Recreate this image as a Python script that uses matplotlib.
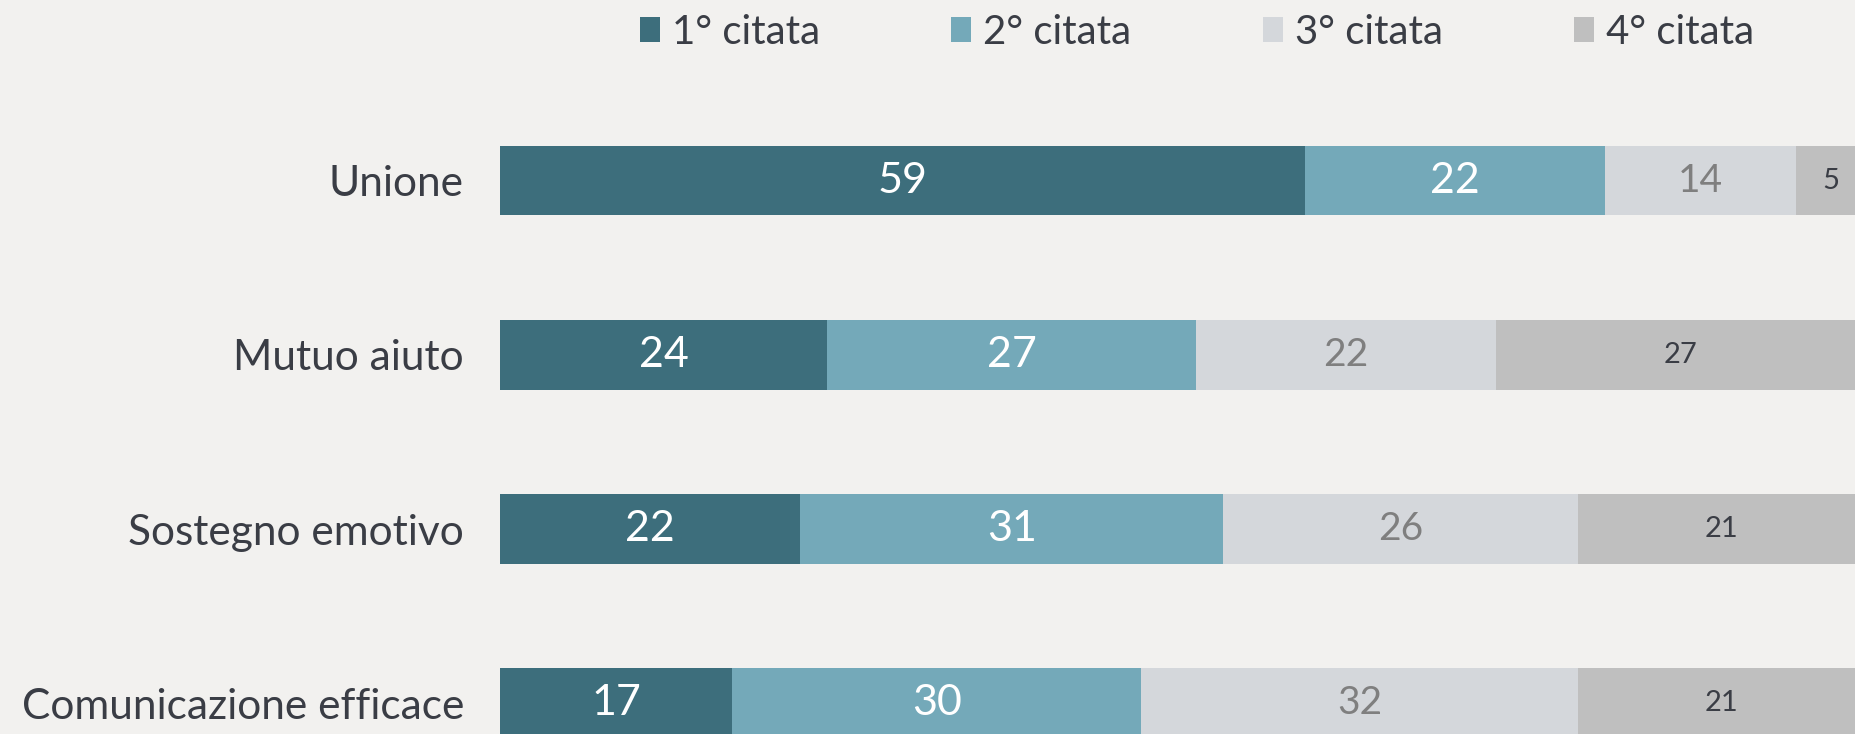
import numpy as np
import matplotlib.pyplot as plt
from matplotlib.patches import Patch

categories = ["Unione", "Mutuo aiuto", "Sostegno emotivo", "Comunicazione efficace"]
series_names = ["1° citata", "2° citata", "3° citata", "4° citata"]
first = [59, 24, 22, 17]
second = [22, 27, 31, 30]
third = [14, 22, 26, 32]
fourth = [5, 27, 21, 21]

colors = ["#3D6E7C", "#74A9B9", "#D4D7DB", "#BFBFBF"]
label_colors = ["white", "white", "#7F7F7F", "#3A3D45"]
label_sizes = [31, 31, 28, 21]
bg = "#F2F1EF"
txt = "#3A3D45"

plt.rcParams['font.family'] = ['Lato', 'DejaVu Sans']

fig = plt.figure(figsize=(18.55, 7.34), dpi=100, facecolor=bg)
ax = fig.add_axes([500 / 1855, 0, 1 - 500 / 1855, 1])
ax.set_facecolor(bg)

y = np.arange(len(categories))
left = np.zeros(len(categories))
for vals, col, lc, ls in zip([first, second, third, fourth], colors, label_colors, label_sizes):
    vals = np.array(vals, dtype=float)
    bars = ax.barh(y, vals, left=left, height=0.4, color=col)
    for b, v in zip(bars, vals):
        ax.text(b.get_x() + b.get_width() / 2, b.get_y() + b.get_height() / 2, f"{int(v)}",
                ha="center", va="center", color=lc, fontsize=ls)
    left += vals

ax.set_xlim(0, 99.3)
ax.set_ylim(3.176, -1.036)
ax.set_yticks(y)
ax.set_yticklabels(categories, fontsize=30.5, color=txt)
ax.tick_params(axis="y", length=0, pad=26)
ax.set_xticks([])
for s in ax.spines.values():
    s.set_visible(False)

handles = [Patch(facecolor=c, label=n) for c, n in zip(colors, series_names)]
leg = fig.legend(handles=handles, loc="center left", bbox_to_anchor=(640 / 1855, 1 - 32 / 734),
                 ncol=4, frameon=False, fontsize=29, handlelength=0.5, handleheight=0.6,
                 handletextpad=0.3, columnspacing=3.25, borderaxespad=0, borderpad=0)
for t in leg.get_texts():
    t.set_color(txt)

fig.savefig("out.png", facecolor=bg)
